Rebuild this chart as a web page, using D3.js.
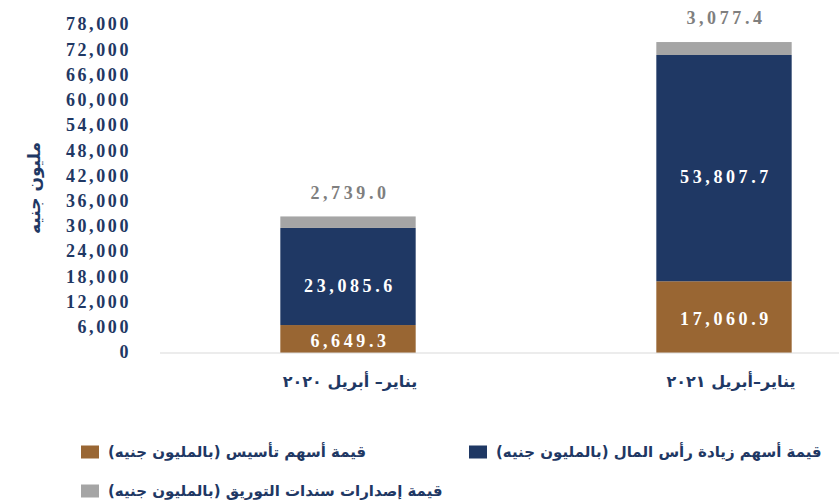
<!DOCTYPE html>
<html>
<head>
<meta charset="utf-8">
<script src="https://cdn.jsdelivr.net/npm/d3@7"></script>
<style>
  body { margin: 0; background: #fff; }
  svg { display: block; }
</style>
</head>
<body>
<script>
const width = 839, height = 501;

// data
const periods = ["يناير– أبريل ٢٠٢٠", "يناير–أبريل ٢٠٢١"];
const founding = [6649.3, 17060.9];
const capitalIncrease = [23085.6, 53807.7];
const securitization = [2739.0, 3077.4];
const yTicks = [0, 6000, 12000, 18000, 24000, 30000, 36000, 42000, 48000, 54000, 60000, 66000, 72000, 78000];

const seriesNames = [
  "قيمة أسهم تأسيس (بالمليون جنيه)",
  "قيمة أسهم زيادة رأس المال (بالمليون جنيه)",
  "قيمة إصدارات سندات التوريق (بالمليون جنيه)"
];
const colors = ["#996633", "#1f3864", "#a5a5a5"];

const navy = "#1f3864";
const serif = "'Liberation Serif', 'Times New Roman', serif";
const sans = "'DejaVu Sans', 'Liberation Sans', Arial, sans-serif";

const svg = d3.select("body").append("svg")
  .attr("width", width)
  .attr("height", height);

const x = d3.scalePoint()
  .domain(periods)
  .range([160, 912])
  .padding(0.5);

const barWidth = x.step() * 0.36;

const y = d3.scaleLinear()
  .domain([0, 78000])
  .range([353, 25]);

// y tick labels
svg.append("g")
  .selectAll("text")
  .data(yTicks)
  .enter().append("text")
  .attr("x", 131)
  .attr("y", d => y(d))
  .attr("dy", "0.3em")
  .attr("text-anchor", "end")
  .attr("font-family", serif)
  .attr("font-weight", "bold")
  .attr("font-size", 18)
  .attr("letter-spacing", 2.6)
  .attr("fill", navy)
  .text(d => d3.format(",")(d));

// y axis title
svg.append("text")
  .attr("transform", "translate(34,188) rotate(-90)")
  .attr("text-anchor", "middle")
  .attr("dy", "0.35em")
  .attr("font-family", sans)
  .attr("font-weight", "bold")
  .attr("font-size", 17)
  .attr("fill", navy)
  .text("مليون جنيه");

// stacked bars
const rows = periods.map((p, i) => ({
  period: p,
  values: [founding[i], capitalIncrease[i], securitization[i]]
}));

rows.forEach(r => {
  let base = 0;
  r.values.forEach((v, k) => {
    svg.append("rect")
      .attr("x", x(r.period) - barWidth / 2)
      .attr("y", y(base + v))
      .attr("width", barWidth)
      .attr("height", y(base) - y(base + v))
      .attr("fill", colors[k]);

    const inside = k < 2;
    const ly = inside
      ? (y(base) + y(base + v)) / 2 + (k === 1 ? 9 : 2)
      : y(base + v) - 24;

    svg.append("text")
      .attr("x", x(r.period) + 2)
      .attr("y", ly)
      .attr("dy", "0.35em")
      .attr("text-anchor", "middle")
      .attr("font-family", serif)
      .attr("font-weight", "bold")
      .attr("font-size", 18)
      .attr("letter-spacing", 3.6)
      .attr("fill", inside ? "#ffffff" : "#7f7f7f")
      .text(d3.format(",.1f")(v));

    base += v;
  });
});

// baseline
svg.append("line")
  .attr("x1", 160).attr("x2", width)
  .attr("y1", y(0)).attr("y2", y(0))
  .attr("stroke", "#d9d9d9")
  .attr("stroke-width", 1);

// x labels
svg.append("g")
  .selectAll("text")
  .data(periods)
  .enter().append("text")
  .attr("x", (d, i) => x(d) + (i === 0 ? 2 : 7))
  .attr("y", 381)
  .attr("dy", "0.35em")
  .attr("text-anchor", "middle")
  .attr("direction", "rtl")
  .attr("font-family", sans)
  .attr("font-weight", "bold")
  .attr("font-size", 16)
  .attr("fill", navy)
  .text(d => d);

// legend
const legendPos = [[81, 452], [469, 452], [81, 491]];

seriesNames.forEach((name, k) => {
  const [lx, ly] = legendPos[k];
  svg.append("rect")
    .attr("x", lx)
    .attr("y", ly - 6.5)
    .attr("width", 18)
    .attr("height", 13)
    .attr("fill", colors[k]);
  svg.append("text")
    .attr("x", lx + 27)
    .attr("y", ly)
    .attr("dy", "0.35em")
    .attr("direction", "rtl")
    .attr("text-anchor", "end")
    .attr("font-family", sans)
    .attr("font-weight", "bold")
    .attr("font-size", 15)
    .attr("fill", navy)
    .text(name);
});
</script>
</body>
</html>
